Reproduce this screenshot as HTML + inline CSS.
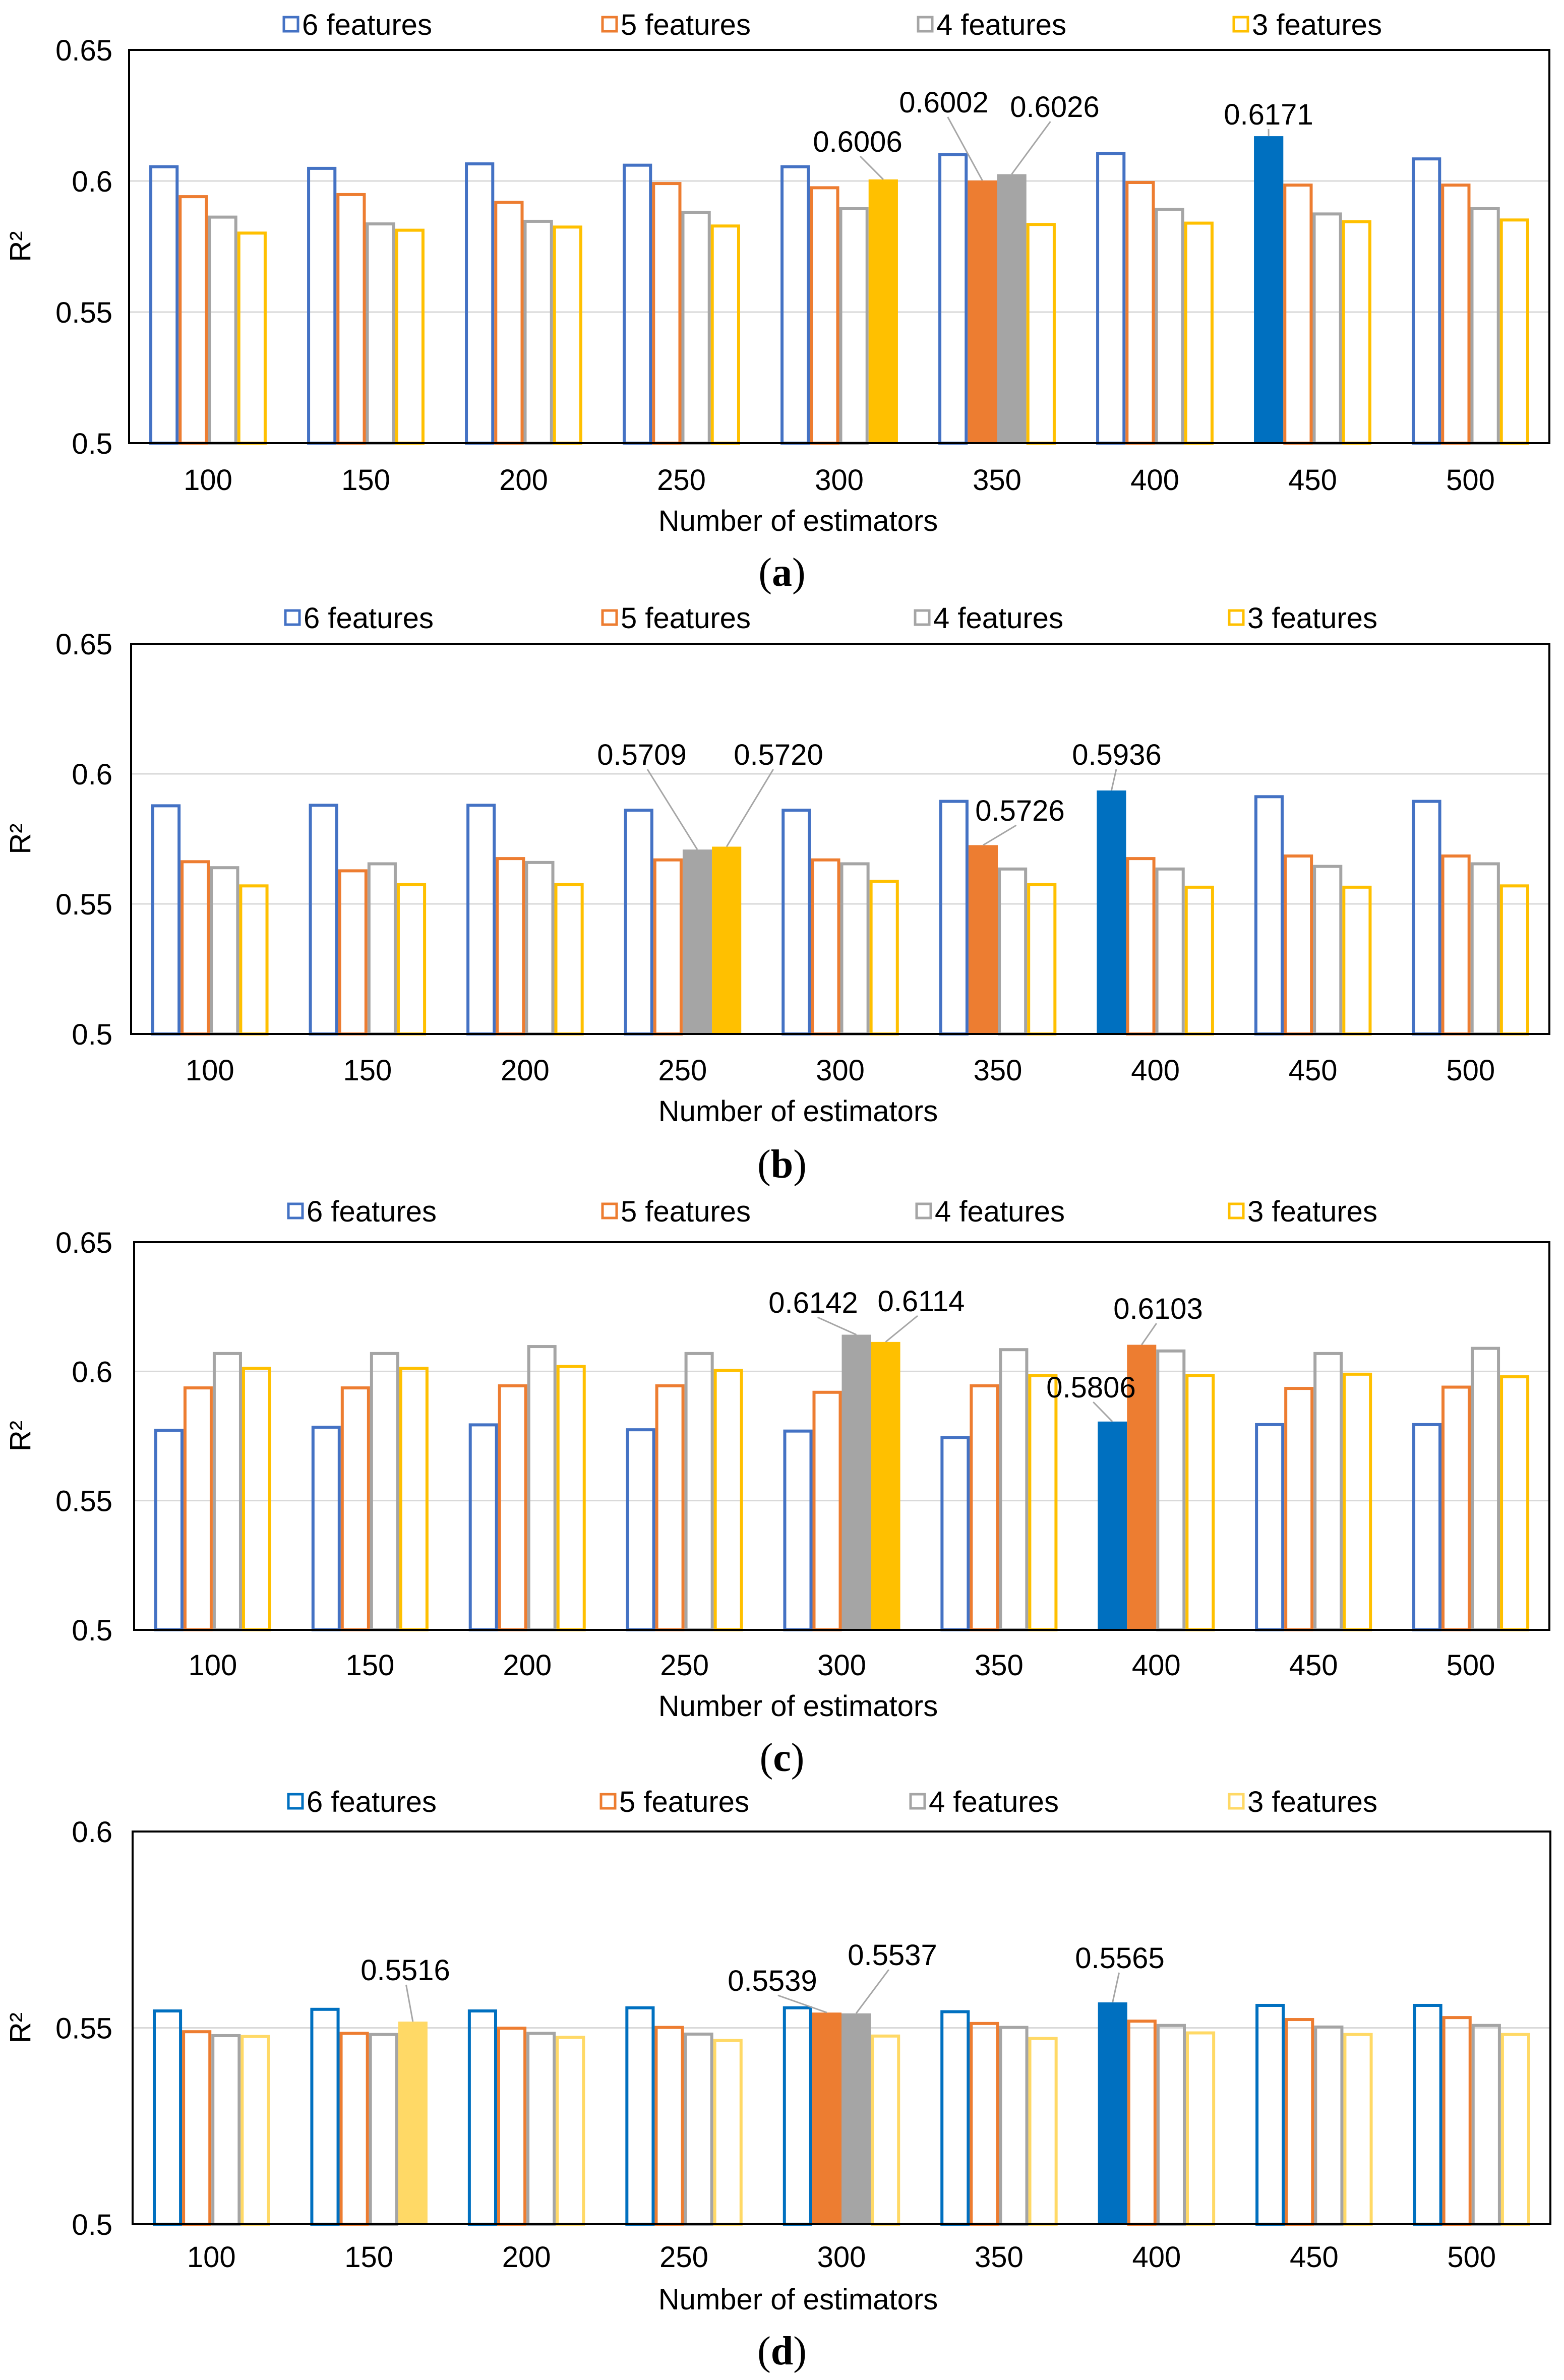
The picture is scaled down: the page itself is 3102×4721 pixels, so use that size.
<!DOCTYPE html>
<html><head><meta charset="utf-8"><style>
html,body{margin:0;padding:0;background:#fff}
svg{display:block}
text{font-family:"Liberation Sans",Arial,sans-serif}
</style></head><body>
<svg id="fig" width="3102" height="4721" viewBox="0 0 3102 4721" xmlns="http://www.w3.org/2000/svg"></svg>
<script>
const categories=["100","150","200","250","300","350","400","450","500"];
const seriesNames=["6 features","5 features","4 features","3 features"];
// panel a
const a6=[0.606,0.6054,0.6071,0.6066,0.606,0.6106,0.611,0.6171,0.609];
const a5=[0.5946,0.5954,0.5924,0.5996,0.598,0.6002,0.600,0.599,0.599];
const a4=[0.5868,0.5842,0.5852,0.5886,0.590,0.6026,0.5897,0.588,0.590];
const a3=[0.5807,0.5818,0.583,0.5834,0.6006,0.584,0.5845,0.585,0.5857];
// panel b
const b6=[0.5883,0.5885,0.5885,0.5866,0.5866,0.590,0.5936,0.5918,0.590];
const b5=[0.5668,0.5633,0.568,0.5675,0.5675,0.5726,0.568,0.569,0.569];
const b4=[0.5645,0.566,0.5665,0.5709,0.566,0.564,0.564,0.565,0.566];
const b3=[0.5575,0.558,0.558,0.5720,0.5593,0.558,0.557,0.557,0.5575];
// panel c
const c6=[0.5778,0.579,0.5799,0.578,0.5775,0.575,0.5806,0.580,0.580];
const c5=[0.5942,0.5942,0.595,0.595,0.5925,0.595,0.6103,0.594,0.5945];
const c4=[0.6075,0.6075,0.6102,0.6075,0.6142,0.609,0.6085,0.6075,0.6095];
const c3=[0.6018,0.6018,0.6025,0.601,0.6114,0.599,0.599,0.5995,0.5985];
// panel d
const d6=[0.5547,0.5551,0.5547,0.5555,0.5555,0.5545,0.5565,0.5561,0.5561];
const d5=[0.5494,0.549,0.5503,0.5505,0.5539,0.5515,0.5521,0.5525,0.553];
const d4=[0.5484,0.5487,0.549,0.5488,0.5537,0.5505,0.551,0.5506,0.551];
const d3=[0.5482,0.5516,0.548,0.5472,0.5483,0.5477,0.5491,0.5487,0.5487];
const ticksA=["0.5","0.55","0.6","0.65"];
const ticksD=["0.5","0.55","0.6"];
// highlighted (filled) bars: [series index, category index]
const hlA=[[3,4],[1,5],[2,5],[0,7]];
const hlB=[[2,3],[3,3],[1,5],[0,6]];
const hlC=[[2,4],[3,4],[0,6],[1,6]];
const hlD=[[3,1],[1,4],[2,4],[0,6]];

const NS="http://www.w3.org/2000/svg";
const svg=document.getElementById('fig');
function mk(tag,attrs,parent){const e=document.createElementNS(NS,tag);for(const k in attrs)e.setAttribute(k,attrs[k]);(parent||svg).appendChild(e);return e;}

const FS=58;
const colsABC=["#4472C4","#ED7D31","#A5A5A5","#FFC000"];
const colsD=["#0070C0","#ED7D31","#A5A5A5","#FFD966"];
const panels=[
 {id:"a",data:[a6,a5,a4,a3],hl:hlA,ticks:ticksA,ymin:0.5,ymax:0.65,left:256,right:3073,top:99,bottom:879,legY:48,legX:[563,1195,1821,2447],xlabY:951,titleY:1032,capY:1135,cols:colsABC,filledBlue:"#0070C0",
  lab:[[1701,280],[1872,202],[2092,211],[2516,226]]},
 {id:"b",data:[b6,b5,b4,b3],hl:hlB,ticks:ticksA,ymin:0.5,ymax:0.65,left:260,right:3073,top:1277,bottom:2051,legY:1225,legX:[566,1195,1815,2438],xlabY:2122,titleY:2203,capY:2309,cols:colsABC,filledBlue:"#0070C0",
  lab:[[1273,1496],[1544,1496],[2023,1607],[2215,1496]]},
 {id:"c",data:[c6,c5,c4,c3],hl:hlC,ticks:ticksA,ymin:0.5,ymax:0.65,left:266,right:3073,top:2464,bottom:3233,legY:2402,legX:[572,1195,1818,2438],xlabY:3302,titleY:3383,capY:3486,cols:colsABC,filledBlue:"#0070C0",
  lab:[[1613,2583],[1827,2580],[2164,2751],[2297,2595]]},
 {id:"d",data:[d6,d5,d4,d3],hl:hlD,ticks:ticksD,ymin:0.5,ymax:0.6,left:263,right:3075,top:3633,bottom:4412,legY:3573,legX:[572,1192,1806,2438],xlabY:4476,titleY:4560,capY:4663,cols:colsD,filledBlue:"#0070C0",
  lab:[[804,3907],[1532,3928],[1770,3877],[2221,3883]]}
];

panels.forEach(p=>{
 const g=mk('g',{});
 
 
 const y=v=>p.bottom-(v-p.ymin)/(p.ymax-p.ymin)*(p.bottom-p.top);
 const cw=(p.right-p.left)/categories.length;
 const bw=cw*0.186;
 const xb=(c,s)=>p.left+cw*(c+0.5)-2*bw+s*bw;
 p.ticks.forEach(t=>{
  const v=parseFloat(t), yy=y(v);
  if(v>p.ymin&&v<p.ymax){const gl=mk('line',{x1:p.left,x2:p.right,y1:yy,y2:yy,stroke:"#D9D9D9","stroke-width":3},g);
   
   }
  const tl=mk('text',{x:223,y:yy+21,"text-anchor":"end","font-size":FS,fill:"#000"},g);
  tl.textContent=t;
  
  
 });
 p.data.forEach((arr,s)=>{
  arr.forEach((v,c)=>{
   const filled=p.hl.some(h=>h[0]===s&&h[1]===c);
   const col=p.cols[s];
   const x0=xb(c,s), yt=y(v);
   let r;
   if(filled){
    const fc=(s===0)?p.filledBlue:col;
    r=mk('rect',{x:x0,y:yt,width:bw,height:p.bottom-yt,fill:fc},g);
   } else {
    r=mk('rect',{x:x0+3,y:yt+3,width:bw-6,height:p.bottom-yt-3,fill:"none",stroke:col,"stroke-width":6},g);
   }
   
   
  });
 });
 p.hl.forEach((h,i)=>{
  const v=p.data[h[0]][h[1]];
  const [lx,ly]=p.lab[i];
  const bx=xb(h[1],h[0])+bw/2, by=y(v);
  const ln=mk('line',{x1:lx+(bx-lx)*0.1,y1:ly+30,x2:bx,y2:by,stroke:"#A6A6A6","stroke-width":3},g);
  
  
  const t=mk('text',{x:lx,y:ly+21,"text-anchor":"middle","font-size":FS,fill:"#000"},g);
  t.textContent=v.toFixed(4);
  
  
 });
 const fr=mk('rect',{x:p.left,y:p.top,width:p.right-p.left,height:p.bottom-p.top,fill:"none",stroke:"#000","stroke-width":4},g);
 
 
 categories.forEach((c,i)=>{
  const t=mk('text',{x:p.left+cw*(i+0.5),y:p.xlabY+21,"text-anchor":"middle","font-size":FS,fill:"#000"},g);
  t.textContent=c;
  
  
 });
 const xt=mk('text',{x:1583,y:p.titleY+21,"text-anchor":"middle","font-size":FS,fill:"#000"},g);
 xt.textContent="Number of estimators";
 
 
 const yt=mk('text',{x:0,y:0,"text-anchor":"middle","font-size":FS,fill:"#000",transform:`translate(60,${(p.top+p.bottom)/2}) rotate(-90)`},g);
 yt.textContent="R²";
 
 
 seriesNames.forEach((n,s)=>{
  const lg=mk('g',{},g);
  
  
  mk('rect',{x:p.legX[s],y:p.legY-14,width:28,height:28,fill:"none",stroke:p.cols[s],"stroke-width":5},lg);
  const t=mk('text',{x:p.legX[s]+36,y:p.legY+21,"font-size":FS,fill:"#000"},lg);
  t.textContent=n;
 });
 const cap=mk('text',{x:1551,y:p.capY+27,"text-anchor":"middle","font-size":80,fill:"#000",style:'font-family:"Liberation Serif",serif'},g);
 cap.innerHTML='(<tspan font-weight="bold">'+p.id+'</tspan>)';
 
 
});
</script>
</body></html>
